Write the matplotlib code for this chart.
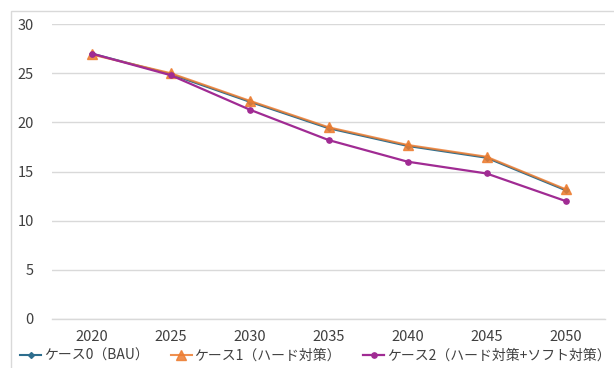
import matplotlib
matplotlib.use("Agg")
import matplotlib.pyplot as plt
from matplotlib.patches import Rectangle

plt.rcParams['font.family'] = ['Noto Sans CJK JP', 'DejaVu Sans']

years = ["2020", "2025", "2030", "2035", "2040", "2045", "2050"]
case0_bau = [27.0, 24.9, 22.1, 19.4, 17.6, 16.4, 13.1]
case1_hard = [26.9, 25.0, 22.2, 19.5, 17.7, 16.5, 13.2]
case2_hard_soft = [27.0, 24.8, 21.3, 18.2, 16.0, 14.8, 12.0]
series_names = ["ケース0（BAU）", "ケース1（ハード対策）", "ケース2（ハード対策+ソフト対策）"]
y_ticks = [0, 5, 10, 15, 20, 25, 30]

W, H = 614, 368
fig = plt.figure(figsize=(W / 100, H / 100), dpi=100)
fig.patch.set_facecolor("white")

# outer chart-area frame
fig.patches.append(Rectangle((11 / W, -0.1), 1.2, 1.1 - 11 / H,
                             transform=fig.transFigure, fill=False,
                             edgecolor="#D9D9D9", linewidth=1.0))

ax = fig.add_axes([52 / W, 1 - 319 / H, (605 - 52) / W, (319 - 24) / H])
x = list(range(len(years)))

text_color = "#404040"
ax.plot(x, case0_bau, color="#2E6E8E", linewidth=1.5, marker="D",
        markersize=3.0, label=series_names[0], zorder=3)
ax.plot(x, case1_hard, color="#ED7D31", linewidth=1.5, marker="^",
        markersize=6.5, label=series_names[1], zorder=4, alpha=0.85)
ax.plot(x, case2_hard_soft, color="#A02B93", linewidth=1.6, marker="o",
        markersize=3.8, label=series_names[2], zorder=5)

ax.set_xlim(-0.5, len(years) - 0.5)
ax.set_ylim(0, 30)
ax.set_yticks(y_ticks)
ax.set_xticks(x)
ax.set_xticklabels(years)
ax.grid(axis="y", color="#D9D9D9", linewidth=1.0)
ax.set_axisbelow(True)
for s in ["top", "right", "left"]:
    ax.spines[s].set_visible(False)
ax.spines["bottom"].set_color("#D9D9D9")
ax.spines["bottom"].set_linewidth(1.0)
ax.tick_params(axis="both", length=0, labelsize=10.5, colors=text_color)
ax.tick_params(axis="y", pad=13)
ax.tick_params(axis="x", pad=8)

fig.legend(loc="lower left", bbox_to_anchor=(12 / W, -3 / H), ncol=3,
           frameon=False, fontsize=10, handlelength=1.5, handletextpad=0.2,
           columnspacing=1.6, labelcolor=text_color, borderaxespad=0.2)

fig.savefig("out.png", dpi=100)
